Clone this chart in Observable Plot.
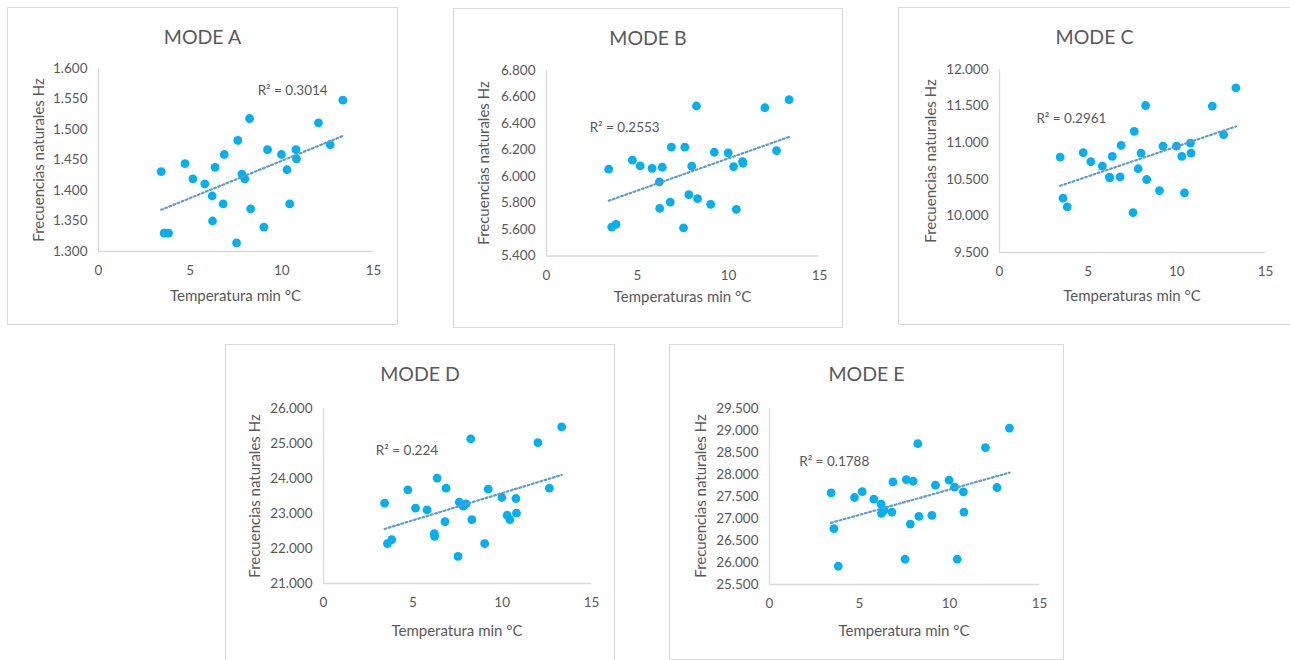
<!DOCTYPE html>
<html>
<head>
<meta charset="utf-8">
<script src="https://cdn.jsdelivr.net/npm/d3@7"></script>
<script src="https://cdn.jsdelivr.net/npm/@observablehq/plot@0.6"></script>
<style>
  html, body { margin: 0; padding: 0; background: #ffffff; }
  body { width: 1290px; height: 660px; position: relative; overflow: hidden; font-family: Lato, "Liberation Sans", sans-serif; color: #595959; }
  .panel { position: absolute; background: #fff; box-shadow: inset 0 0 0 1px #d9d9d9; }
  .panel svg { position: absolute; left: 0; top: 0; overflow: visible; }
  .ttl { position: absolute; transform: translate(-50%, -50%); white-space: nowrap; font-size: 19.5px; color: #595959; }
  .xt { position: absolute; transform: translate(-50%, -50%); white-space: nowrap; font-size: 15px; color: #595959; }
  .yt { position: absolute; transform: translate(-50%, -50%) rotate(-90deg); white-space: nowrap; font-size: 15px; color: #595959; }
</style>
</head>
<body>
<script>
// ---- data ----
const temps = [3.42, 3.58, 3.82, 4.72, 5.15, 5.8, 6.2, 6.22, 6.36, 6.8, 6.86, 7.53, 7.6, 7.82, 7.98, 8.24, 8.3, 9.02, 9.22, 9.98, 10.28, 10.43, 10.77, 10.8, 12.0, 12.64, 13.33];
const modeA = [1.431, 1.330, 1.330, 1.444, 1.419, 1.411, 1.391, 1.350, 1.438, 1.378, 1.459, 1.314, 1.482, 1.427, 1.419, 1.518, 1.370, 1.340, 1.467, 1.459, 1.434, 1.378, 1.467, 1.452, 1.511, 1.475, 1.548];
const modeB = [6.055, 5.618, 5.638, 6.123, 6.080, 6.062, 5.959, 5.760, 6.070, 5.807, 6.221, 5.613, 6.221, 5.863, 6.078, 6.532, 5.833, 5.790, 6.183, 6.178, 6.075, 5.752, 6.113, 6.100, 6.519, 6.196, 6.580];
const modeC = [10.803, 10.241, 10.123, 10.864, 10.740, 10.680, 10.529, 10.520, 10.813, 10.534, 10.964, 10.045, 11.156, 10.644, 10.858, 11.508, 10.497, 10.346, 10.954, 10.954, 10.813, 10.315, 10.995, 10.858, 11.499, 11.110, 11.750];
const modeD = [23.294, 22.138, 22.252, 23.677, 23.151, 23.103, 22.424, 22.348, 24.011, 22.769, 23.725, 21.774, 23.323, 23.208, 23.275, 25.130, 22.826, 22.138, 23.696, 23.457, 22.950, 22.826, 23.428, 23.008, 25.025, 23.725, 25.474];
const modeE = [27.583, 26.768, 25.915, 27.477, 27.613, 27.440, 27.326, 27.115, 27.191, 27.145, 27.832, 26.074, 27.885, 26.874, 27.847, 28.700, 27.047, 27.070, 27.757, 27.870, 27.711, 26.074, 27.606, 27.145, 28.609, 27.704, 29.055];

const titles = ["MODE A", "MODE B", "MODE C", "MODE D", "MODE E"];
const xLabels = ["Temperatura min °C", "Temperaturas min °C", "Temperaturas min °C", "Temperatura min °C", "Temperatura min °C"];
const yLabel = "Frecuencias naturales Hz";
const xTicks = [0, 5, 10, 15];
const yTicksA = [1.30, 1.35, 1.40, 1.45, 1.50, 1.55, 1.60];
const yTicksB = [5.4, 5.6, 5.8, 6.0, 6.2, 6.4, 6.6, 6.8];
const yTicksC = [9.5, 10.0, 10.5, 11.0, 11.5, 12.0];
const yTicksD = [21, 22, 23, 24, 25, 26];
const yTicksE = [25.5, 26.0, 26.5, 27.0, 27.5, 28.0, 28.5, 29.0, 29.5];
const r2Text = ["R² = 0.3014", "R² = 0.2553", "R² = 0.2961", "R² = 0.224", "R² = 0.1788"];
// label anchor in data units [temperature, frequency]
const r2Anchor = [[8.68, 1.564], [2.37, 6.370], [2.08, 11.330], [2.93, 24.786], [1.65, 28.298]];

// ---- layout (pixels) ----
// [left, top, width, height, marginLeft, marginRight, marginTop, marginBottom, titleY, xTitleY, yTitleX]
const layout = [
  [7, 7, 391, 318, 91, 25, 61, 74, 29, 288, 31],
  [453, 8, 390, 320, 93, 24, 62, 72.5, 29, 288, 30],
  [898, 7, 393, 318, 101, 26, 62, 73, 29, 288, 32],
  [225, 344, 390, 318, 98, 24, 64, 79, 29, 286, 29],
  [669, 344, 395, 316, 100, 25, 64, 76, 29, 286, 31]
];

const modes = [modeA, modeB, modeC, modeD, modeE];
const yTicksAll = [yTicksA, yTicksB, yTicksC, yTicksD, yTicksE];
const fmt = d3.format(".3f");

modes.forEach((vals, i) => {
  const [L, T, W, H, mL, mR, mT, mB, tY, xtY, ytX] = layout[i];
  const yt = yTicksAll[i];
  const yDom = [yt[0], yt[yt.length - 1]];
  const data = temps.map((t, k) => ({t, f: vals[k]}));
  const panel = document.createElement("div");
  panel.className = "panel";
  Object.assign(panel.style, {left: L + "px", top: T + "px", width: W + "px", height: H + "px"});
  document.body.appendChild(panel);

  const chart = Plot.plot({
    width: W, height: H,
    marginLeft: mL, marginRight: mR, marginTop: mT, marginBottom: mB,
    style: {fontFamily: "Lato, sans-serif", fontSize: "13.5px", color: "#595959", background: "transparent", overflow: "visible"},
    x: {domain: [0, 15]},
    y: {domain: yDom},
    marks: [
      Plot.ruleX([0], {stroke: "#d9d9d9", strokeWidth: 1.3}),
      Plot.ruleY([yDom[0]], {stroke: "#d9d9d9", strokeWidth: 1.3}),
      Plot.axisX({ticks: xTicks, tickSize: 0, tickPadding: 14, label: null}),
      Plot.axisY({ticks: yt, tickSize: 0, tickPadding: 11, tickFormat: fmt, label: null}),
      Plot.dot(data, {x: "t", y: "f", r: 4.4, fill: "#00B0F0"}),
      Plot.linearRegressionY(data, {x: "t", y: "f", ci: 0, stroke: "#5B9BD5", strokeWidth: 2.2, strokeDasharray: "1.8 2.6"}),
      Plot.text([{x: r2Anchor[i][0], y: r2Anchor[i][1], s: r2Text[i]}], {x: "x", y: "y", text: "s", textAnchor: "start", lineAnchor: "middle", fill: "#595959", fontSize: 13.5})
    ]
  });
  panel.appendChild(chart);

  const plotCx = mL + (W - mL - mR) / 2;
  const plotCy = mT + (H - mT - mB) / 2;
  const title = document.createElement("div");
  title.className = "ttl";
  title.textContent = titles[i];
  Object.assign(title.style, {left: (W / 2) + "px", top: tY + "px"});
  panel.appendChild(title);

  const xt = document.createElement("div");
  xt.className = "xt";
  xt.textContent = xLabels[i];
  Object.assign(xt.style, {left: plotCx + "px", top: xtY + "px"});
  panel.appendChild(xt);

  const ytl = document.createElement("div");
  ytl.className = "yt";
  ytl.textContent = yLabel;
  Object.assign(ytl.style, {left: ytX + "px", top: plotCy + "px"});
  panel.appendChild(ytl);
});
</script>
</body>
</html>
